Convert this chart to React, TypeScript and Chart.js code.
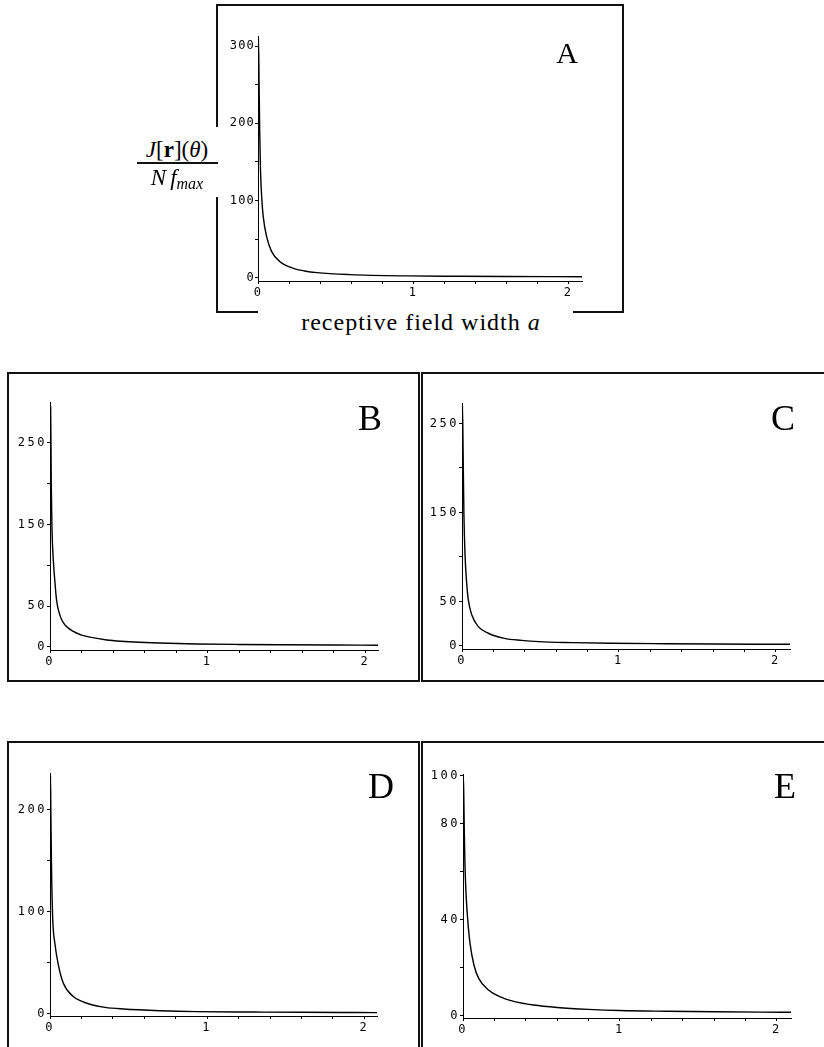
import React, { useEffect, useRef } from "react";
import { Chart, registerables } from "chart.js";

Chart.register(...registerables);

// ---------- data (receptive field width a -> J[r](θ)/(N f_max)) ----------
const A_X = [0, 0.003, 0.007, 0.011, 0.016, 0.024, 0.034, 0.056, 0.088, 0.142, 0.228, 0.3, 0.38, 0.59, 0.96, 1.3, 1.6, 1.9, 2.09];
const A_Y = [0, 310, 250, 190, 140, 104, 79, 53, 34, 21, 12.4, 9, 6.8, 4.3, 2.6, 2.1, 1.8, 1.6, 1.5];

const B_X = [0, 0.004, 0.008, 0.012, 0.016, 0.021, 0.026, 0.032, 0.037, 0.042, 0.05, 0.063, 0.075, 0.095, 0.148, 0.2, 0.254, 0.36, 0.45, 0.57, 0.75, 0.93, 1.2, 1.5, 1.8, 2.08];
const B_Y = [0, 294, 200, 150, 125, 106, 92, 78, 66, 57, 48, 39, 33, 27, 19, 14.5, 12, 8.6, 7, 5.7, 4.5, 3.7, 3.1, 2.7, 2.4, 2.2];

const C_X = [0, 0.003, 0.007, 0.012, 0.019, 0.03, 0.04, 0.062, 0.104, 0.168, 0.27, 0.38, 0.49, 0.7, 0.95, 1.3, 1.6, 1.9, 2.09];
const C_Y = [0, 270, 220, 150, 104, 70, 52, 35, 21.7, 14.3, 8.6, 6.3, 4.9, 3.8, 3, 2.5, 2.2, 2.0, 1.9];

const D_X = [0, 0.003, 0.006, 0.01, 0.017, 0.032, 0.053, 0.085, 0.148, 0.2, 0.254, 0.35, 0.466, 0.7, 0.93, 1.3, 1.6, 1.9, 2.08];
const D_Y = [0, 233, 190, 140, 94, 68, 48, 30, 17, 12.5, 9.5, 6.5, 4.9, 3.2, 2.3, 1.9, 1.6, 1.4, 1.3];

const E_X = [0, 0.002, 0.005, 0.008, 0.012, 0.02, 0.03, 0.045, 0.07, 0.1, 0.16, 0.23, 0.33, 0.45, 0.6, 0.8, 1.0, 1.3, 1.6, 1.9, 2.09];
const E_Y = [0, 100, 92, 78, 64, 50, 40, 30, 21, 15.5, 10.8, 8, 5.8, 4.4, 3.4, 2.6, 2.1, 1.8, 1.6, 1.45, 1.4];

// ---------- ticks ----------
const X_TICKS = [0, 0.2, 0.4, 0.6, 0.8, 1, 1.2, 1.4, 1.6, 1.8, 2];
const X_LABELS = [0, 1, 2];

const A_Y_TICKS = [0, 50, 100, 150, 200, 250, 300];
const A_Y_LABELS = [0, 100, 200, 300];
const B_Y_TICKS = [0, 50, 100, 150, 200, 250];
const B_Y_LABELS = [0, 50, 150, 250];
const C_Y_TICKS = [0, 50, 100, 150, 200, 250];
const C_Y_LABELS = [0, 50, 150, 250];
const D_Y_TICKS = [0, 50, 100, 150, 200];
const D_Y_LABELS = [0, 100, 200];
const E_Y_TICKS = [0, 20, 40, 60, 80, 100];
const E_Y_LABELS = [0, 40, 80, 100];

const PANEL_LETTERS = ["A", "B", "C", "D", "E"];
const X_TITLE = "receptive field width ";

type Area = { left: number; top: number; right: number; bottom: number };
type PanelProps = {
  xs: number[];
  ys: number[];
  xMax: number;
  yMin: number;
  yMax: number;
  yTicks: number[];
  yLabels: number[];
  area: Area;
  spacing: number;
};

const YW = 45;
const XH = 22;
const PT = 10;
const PR = 12;

function Panel(p: PanelProps) {
  const ref = useRef<HTMLCanvasElement | null>(null);
  const width = p.area.right - p.area.left + YW + PR;
  const height = p.area.bottom - p.area.top + XH + PT;

  useEffect(() => {
    if (!ref.current) return;
    const font = { family: "'DejaVu Sans Mono', monospace", size: 12 };
    const chart = new Chart(ref.current, {
      type: "line",
      data: {
        datasets: [
          {
            data: p.xs.map((x, i) => ({ x, y: p.ys[i] })),
            borderColor: "#000",
            borderWidth: 1.4,
            pointRadius: 0,
            fill: false,
            cubicInterpolationMode: "monotone",
          },
        ],
      },
      options: {
        animation: false,
        responsive: false,
        maintainAspectRatio: false,
        devicePixelRatio: 1,
        events: [],
        layout: { padding: { top: PT, right: PR, left: 0, bottom: 0 } },
        plugins: { legend: { display: false }, tooltip: { enabled: false } },
        scales: {
          x: {
            type: "linear",
            min: 0,
            max: p.xMax,
            afterBuildTicks: (s: any) => {
              s.ticks = X_TICKS.map((v) => ({ value: v }));
            },
            afterFit: (s: any) => {
              s.height = XH;
            },
            ticks: {
              autoSkip: false,
              maxRotation: 0,
              padding: 2,
              color: "#000",
              font,
              callback: (v: any) => (X_LABELS.includes(Number(v)) ? String(v) : ""),
            },
            grid: { drawOnChartArea: false, drawTicks: true, tickLength: 3, color: "#000", tickWidth: 1 },
            border: { display: true, color: "#000", width: 1 },
          },
          y: {
            type: "linear",
            min: p.yMin,
            max: p.yMax,
            afterBuildTicks: (s: any) => {
              s.ticks = p.yTicks.map((v) => ({ value: v }));
            },
            afterFit: (s: any) => {
              s.width = YW;
            },
            ticks: {
              autoSkip: false,
              padding: 0,
              color: "#000",
              font,
              callback: (v: any) => (p.yLabels.includes(Number(v)) ? String(v) : ""),
            },
            grid: { drawOnChartArea: false, drawTicks: true, tickLength: 3, color: "#000", tickWidth: 1 },
            border: { display: true, color: "#000", width: 1 },
          },
        },
      } as any,
      plugins: [
        {
          id: "letterSpacing",
          beforeDraw(c: any) {
            c.ctx.letterSpacing = p.spacing + "px";
          },
        },
      ],
    });
    return () => chart.destroy();
  }, []);

  return (
    <canvas
      ref={ref}
      width={width}
      height={height}
      style={{
        position: "absolute",
        left: p.area.left - YW,
        top: p.area.top - PT,
        width,
        height,
      }}
    />
  );
}

const SERIF = "'Liberation Serif', 'Times New Roman', serif";

function TextAt(props: {
  x: number;
  baseline: number;
  fs: number;
  children: React.ReactNode;
  spacing?: number;
}) {
  const top = props.baseline - 0.8375 * props.fs;
  return (
    <div
      style={{
        position: "absolute",
        left: props.x,
        top,
        transform: "translateX(-50%)",
        fontFamily: SERIF,
        fontSize: props.fs,
        lineHeight: props.fs + "px",
        whiteSpace: "nowrap",
        color: "#000",
        letterSpacing: (props.spacing ?? 0) + "px",
      }}
    >
      {props.children}
    </div>
  );
}

function Line(props: { x: number; y: number; w: number; h: number }) {
  return (
    <div
      style={{
        position: "absolute",
        left: props.x,
        top: props.y,
        width: props.w,
        height: props.h,
        background: "#111",
      }}
    />
  );
}

export default function App() {
  return (
    <div
      style={{
        position: "absolute",
        left: 0,
        top: 0,
        width: 824,
        height: 1047,
        overflow: "hidden",
        background: "#fff",
      }}
    >
      {/* Panel A frame */}
      <Line x={216} y={4} w={408} h={2} />
      <Line x={216} y={4} w={2} h={123} />
      <Line x={216} y={197} w={2} h={116} />
      <Line x={622} y={4} w={2} h={309} />
      <Line x={216} y={311} w={42} h={2} />
      <Line x={573} y={311} w={51} h={2} />

      <Panel
        xs={A_X}
        ys={A_Y}
        xMax={2.09}
        yMin={-4}
        yMax={313}
        yTicks={A_Y_TICKS}
        yLabels={A_Y_LABELS}
        area={{ left: 258, top: 36, right: 582, bottom: 281 }}
        spacing={1.2}
      />
      <TextAt x={567} baseline={63} fs={30}>
        {PANEL_LETTERS[0]}
      </TextAt>
      <TextAt x={421} baseline={330} fs={24} spacing={1}>
        {X_TITLE}
        <i>a</i>
      </TextAt>
      {/* y-axis title as fraction */}
      <TextAt x={177} baseline={157} fs={23}>
        <i>J</i>[<b>r</b>](<i>θ</i>)
      </TextAt>
      <Line x={137} y={162} w={81} h={1.5} />
      <TextAt x={177} baseline={185} fs={23}>
        <i>N</i>
        <span style={{ marginLeft: 4 }}>
          <i>f</i>
        </span>
        <span style={{ fontSize: 16, position: "relative", top: 4 }}>
          <i>max</i>
        </span>
      </TextAt>

      {/* Panel B */}
      <Line x={7} y={372} w={413} h={2} />
      <Line x={7} y={372} w={2} h={310} />
      <Line x={418} y={372} w={2} h={310} />
      <Line x={7} y={680} w={413} h={2} />
      <Panel
        xs={B_X}
        ys={B_Y}
        xMax={2.08}
        yMin={-3.7}
        yMax={300}
        yTicks={B_Y_TICKS}
        yLabels={B_Y_LABELS}
        area={{ left: 50, top: 402, right: 378, bottom: 650 }}
        spacing={2.5}
      />
      <TextAt x={370} baseline={430} fs={36}>
        {PANEL_LETTERS[1]}
      </TextAt>

      {/* Panel C */}
      <Line x={421} y={372} w={403} h={2} />
      <Line x={421} y={372} w={2} h={310} />
      <Line x={421} y={680} w={403} h={2} />
      <Panel
        xs={C_X}
        ys={C_Y}
        xMax={2.09}
        yMin={-3.4}
        yMax={273}
        yTicks={C_Y_TICKS}
        yLabels={C_Y_LABELS}
        area={{ left: 462, top: 403, right: 790, bottom: 649 }}
        spacing={2.5}
      />
      <TextAt x={783} baseline={430} fs={36}>
        {PANEL_LETTERS[2]}
      </TextAt>

      {/* Panel D */}
      <Line x={7} y={741} w={413} h={2} />
      <Line x={7} y={741} w={2} h={320} />
      <Line x={418} y={741} w={2} h={320} />
      <Panel
        xs={D_X}
        ys={D_Y}
        xMax={2.08}
        yMin={-2}
        yMax={236}
        yTicks={D_Y_TICKS}
        yLabels={D_Y_LABELS}
        area={{ left: 50, top: 773, right: 377, bottom: 1016 }}
        spacing={2.5}
      />
      <TextAt x={381} baseline={798} fs={36}>
        {PANEL_LETTERS[3]}
      </TextAt>

      {/* Panel E */}
      <Line x={421} y={741} w={403} h={2} />
      <Line x={421} y={741} w={2} h={320} />
      <Panel
        xs={E_X}
        ys={E_Y}
        xMax={2.09}
        yMin={-1}
        yMax={100.7}
        yTicks={E_Y_TICKS}
        yLabels={E_Y_LABELS}
        area={{ left: 463, top: 774, right: 791, bottom: 1018 }}
        spacing={2.5}
      />
      <TextAt x={785} baseline={798} fs={36}>
        {PANEL_LETTERS[4]}
      </TextAt>
    </div>
  );
}
